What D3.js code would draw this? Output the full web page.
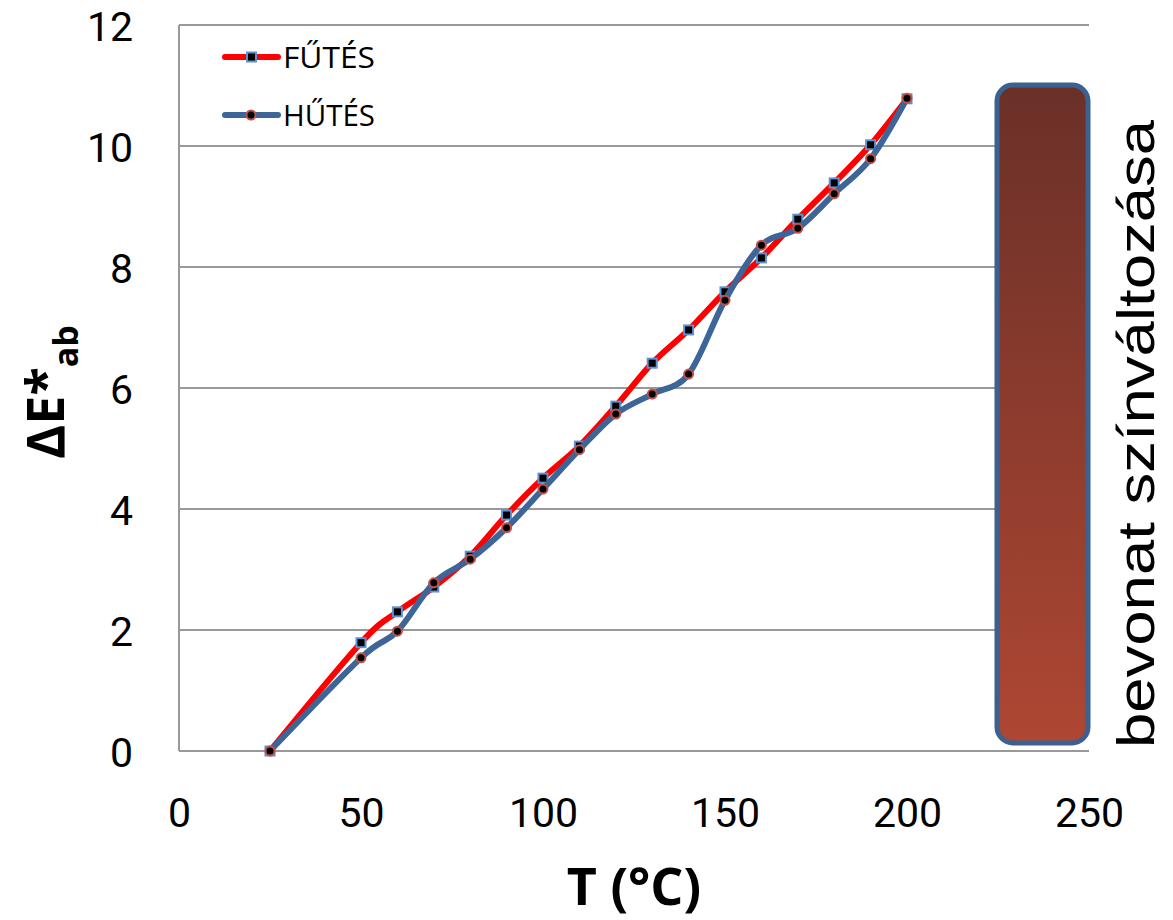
<!DOCTYPE html>
<html><head><meta charset="utf-8">
<script src="https://cdn.jsdelivr.net/npm/d3@7"></script>
<style>body{margin:0;background:#fff}</style></head>
<body><svg id="c" width="1173" height="920"></svg>
<script>
const temps = [25,50,60,70,80,90,100,110,120,130,140,150,160,170,180,190,200];
const heating = [0,1.79,2.30,2.71,3.22,3.90,4.51,5.04,5.70,6.41,6.96,7.59,8.15,8.79,9.39,10.02,10.78];
const cooling = [0,1.54,1.98,2.78,3.17,3.69,4.33,4.98,5.57,5.90,6.23,7.45,8.36,8.64,9.21,9.79,10.79];
const xTicks = [0,50,100,150,200,250];
const yTicks = [0,2,4,6,8,10,12];
const seriesNames = ["FŰTÉS","HŰTÉS"];
const sideLabel = "bevonat színváltozása";

const svg = d3.select("#c");
const x = d3.scaleLinear().domain([0,250]).range([179,1089]);
const y = d3.scaleLinear().domain([0,12]).range([751,25]);
const tickFont = "Roboto,'Open Sans',sans-serif";
const textFont = "'Open Sans',sans-serif";

// gridlines
svg.append("g").selectAll("line").data(yTicks.filter(d=>d>0)).join("line")
  .attr("x1",x(0)).attr("x2",x(250)).attr("y1",d=>y(d)).attr("y2",d=>y(d))
  .attr("stroke","#999").attr("stroke-width",2);
// axes lines
svg.append("line").attr("x1",x(0)).attr("x2",x(0)).attr("y1",y(12)).attr("y2",y(0)).attr("stroke","#999").attr("stroke-width",2);
svg.append("line").attr("x1",x(0)).attr("x2",x(250)).attr("y1",y(0)).attr("y2",y(0)).attr("stroke","#999").attr("stroke-width",2);

// tick labels
const yAxis = d3.axisLeft(y).tickValues(yTicks).tickSize(0).tickPadding(46);
const gy = svg.append("g").attr("transform",`translate(${x(0)},0)`).call(yAxis);
gy.select(".domain").remove();
gy.selectAll("text").attr("font-family",tickFont).attr("font-size",41).attr("fill","#000").attr("dy","0.37em");
const xAxis = d3.axisBottom(x).tickValues(xTicks).tickSize(0).tickPadding(47);
const gx = svg.append("g").attr("transform",`translate(0,${y(0)})`).call(xAxis);
gx.select(".domain").remove();
gx.selectAll("text").attr("font-family",tickFont).attr("font-size",41).attr("fill","#000");

// gradient box
const defs = svg.append("defs");
const grad = defs.append("linearGradient").attr("id","g1").attr("x1",0).attr("y1",0).attr("x2",0).attr("y2",1);
grad.append("stop").attr("offset","0%").attr("stop-color","#6a3028");
grad.append("stop").attr("offset","100%").attr("stop-color","#ae4733");
svg.append("rect").attr("x",997).attr("y",85).attr("width",91).attr("height",658).attr("rx",16)
  .attr("fill","url(#g1)").attr("stroke","#3c6090").attr("stroke-width",5);

// side label
svg.append("text").attr("transform","translate(1154,748) rotate(-90)")
  .attr("font-family","'Liberation Sans',Arial,sans-serif").attr("font-size",52).attr("fill","#000")
  .attr("textLength",628).attr("lengthAdjust","spacingAndGlyphs").text(sideLabel);

// lines
const line = d3.line().x(d=>x(d[0])).y(d=>y(d[1])).curve(d3.curveCatmullRom.alpha(0));
const hData = temps.map((t,i)=>[t,heating[i]]);
const cData = temps.map((t,i)=>[t,cooling[i]]);
svg.append("path").datum(hData).attr("d",line).attr("fill","none").attr("stroke","#ff0000").attr("stroke-width",6).attr("stroke-linejoin","round");
svg.append("g").selectAll("rect").data(hData).join("rect")
  .attr("x",d=>x(d[0])-4.5).attr("y",d=>y(d[1])-4.5).attr("width",9).attr("height",9)
  .attr("fill","#000").attr("stroke","#5e92d2").attr("stroke-width",2);
svg.append("path").datum(cData).attr("d",line).attr("fill","none").attr("stroke","#3e6597").attr("stroke-width",6).attr("stroke-linejoin","round");
svg.append("g").selectAll("circle").data(cData).join("circle")
  .attr("cx",d=>x(d[0])).attr("cy",d=>y(d[1])).attr("r",4.5)
  .attr("fill","#000").attr("stroke","#c0504d").attr("stroke-width",2);

// legend
const lg = svg.append("g");
[["#ff0000","sq"],["#3e6597","ci"]].forEach((s,i)=>{
  const yy = 57 + i*58;
  lg.append("line").attr("x1",225).attr("x2",278).attr("y1",yy).attr("y2",yy).attr("stroke",s[0]).attr("stroke-width",6).attr("stroke-linecap","round");
  if(s[1]==="sq") lg.append("rect").attr("x",247).attr("y",yy-4.5).attr("width",9).attr("height",9).attr("fill","#000").attr("stroke","#5e92d2").attr("stroke-width",2);
  else lg.append("circle").attr("cx",251).attr("cy",yy).attr("r",4.5).attr("fill","#000").attr("stroke","#c0504d").attr("stroke-width",2);
  lg.append("text").attr("x",283).attr("y",yy+11).attr("font-family",textFont).attr("font-size",30).attr("fill","#000")
    .attr("textLength",92).attr("lengthAdjust","spacingAndGlyphs").text(seriesNames[i]);
});

// axis titles
svg.append("text").attr("x",634).attr("y",905).attr("text-anchor","middle")
  .attr("font-family",textFont).attr("font-weight","bold").attr("font-size",52).text("T (°C)");
const yt = svg.append("text").attr("transform","translate(64,392) rotate(-90)").attr("text-anchor","middle")
  .attr("font-family",textFont).attr("font-weight","bold").attr("font-size",52);
yt.append("tspan").text("ΔE*");
yt.append("tspan").attr("font-size",34).attr("dy",14).text("ab");
</script></body></html>
